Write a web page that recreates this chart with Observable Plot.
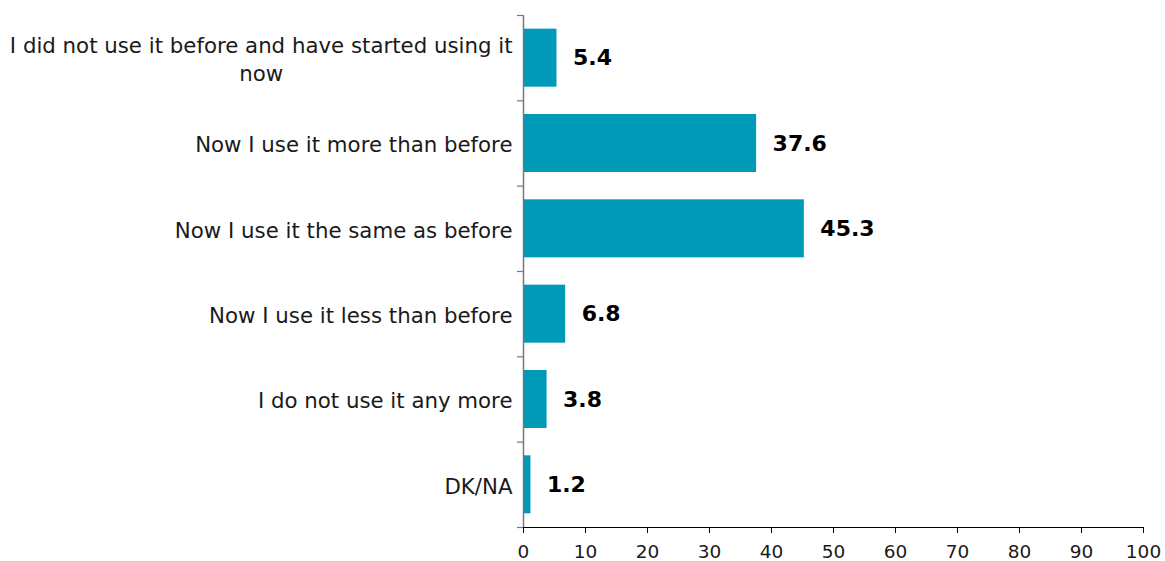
<!DOCTYPE html>
<html>
<head>
<meta charset="utf-8">
<script src="https://cdn.jsdelivr.net/npm/d3@7"></script>
<script src="https://cdn.jsdelivr.net/npm/@observablehq/plot@0.6"></script>
<style>
  html, body { margin: 0; padding: 0; background: #fff; }
</style>
</head>
<body>
<div id="chart"></div>
<script>
const categories = [
  "I did not use it before and have started using it\nnow",
  "Now I use it more than before",
  "Now I use it the same as before",
  "Now I use it less than before",
  "I do not use it any more",
  "DK/NA"
];
const values = [5.4, 37.6, 45.3, 6.8, 3.8, 1.2];
const xTicks = [0, 10, 20, 30, 40, 50, 60, 70, 80, 90, 100];

const data = categories.map((label, i) => ({label, value: values[i], i}));
const pad = 0.16;
const barColor = "#009ab9";

const chart = Plot.plot({
  width: 1165,
  height: 561,
  marginLeft: 523,
  marginRight: 22,
  marginTop: 15,
  marginBottom: 34,
  style: {fontFamily: "'DejaVu Sans', Verdana, sans-serif", fontSize: "18px", background: "#fff"},
  x: {domain: [0, 100], axis: null},
  y: {domain: [categories.length, 0], axis: null},
  marks: [
    Plot.rectX(data, {x1: 0, x2: "value", y1: d => d.i + pad, y2: d => d.i + 1 - pad, fill: barColor}),
    Plot.ruleX([0], {stroke: "#777", strokeWidth: 1.5}),
    Plot.axisY({ticks: d3.range(categories.length + 1), tickSize: 6, tickFormat: () => "", label: null, stroke: "#777", strokeWidth: 1.2}),
    Plot.ruleY([categories.length], {stroke: "#000", strokeWidth: 1.2}),
    Plot.axisX({ticks: xTicks, tickSize: 6, tickPadding: 11, fontSize: 18.5, label: null, stroke: "#000", fill: "#1a1a1a", tickFormat: d => String(d)}),
    Plot.text(data, {x: 0, y: d => d.i + 0.5, text: "label", textAnchor: "end", dx: -11, fontSize: 21.3, fill: "#1a1a1a", lineHeight: 1.3, className: "cat-label"}),
    Plot.text(data, {x: "value", y: d => d.i + 0.5, text: d => d.value.toFixed(1), textAnchor: "start", dx: 16, fontSize: 22, fontWeight: "bold", fill: "#000"})
  ]
});
document.getElementById("chart").appendChild(chart);

// center multi-line category labels within their block (right edge kept)
chart.querySelectorAll(".cat-label text").forEach(t => {
  const spans = t.querySelectorAll("tspan");
  if (spans.length > 1) {
    let w = 0;
    spans.forEach(s => { w = Math.max(w, s.getComputedTextLength()); });
    t.setAttribute("text-anchor", "middle");
    spans.forEach(s => s.setAttribute("x", -w / 2));
  }
});
</script>
</body>
</html>
